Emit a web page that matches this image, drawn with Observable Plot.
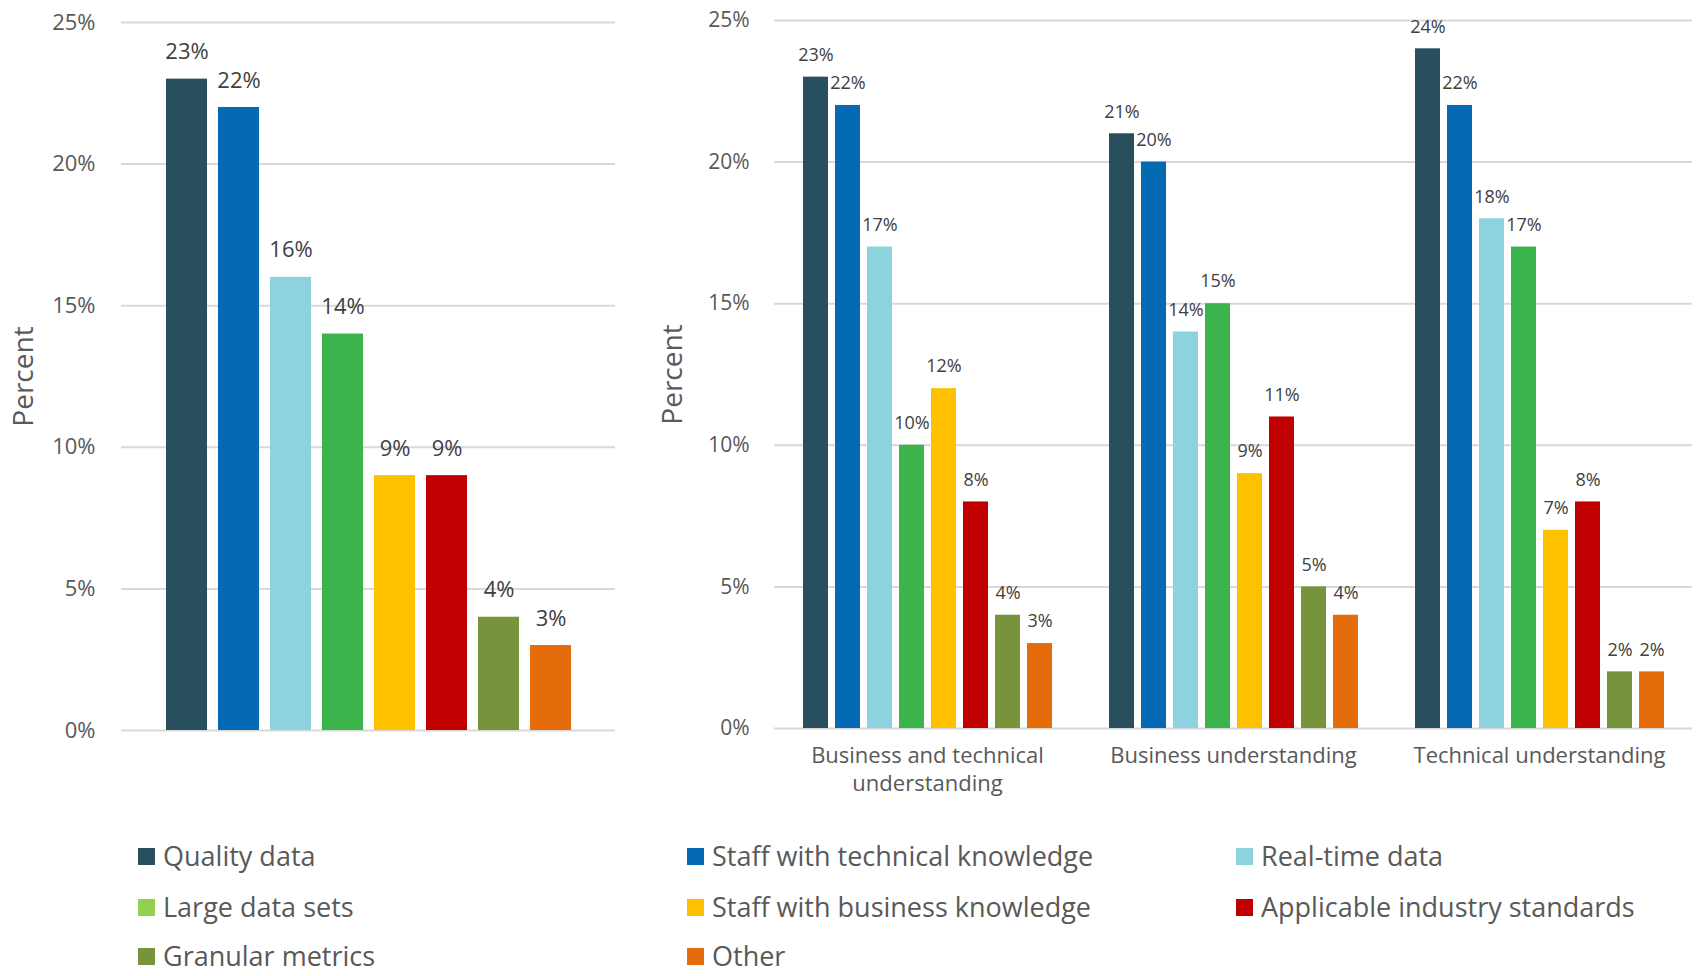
<!DOCTYPE html>
<html>
<head>
<meta charset="utf-8">
<script src="https://cdn.jsdelivr.net/npm/d3@7"></script>
<script src="https://cdn.jsdelivr.net/npm/@observablehq/plot@0.6"></script>
<style>
  html, body { margin: 0; padding: 0; background: #fff; }
  #root { position: relative; width: 1699px; height: 976px; overflow: hidden; font-family: "Open Sans", sans-serif; }
  #left { position: absolute; left: 0; top: 0; }
  #right { position: absolute; left: 640px; top: 0; }
  .leg { position: absolute; display: flex; align-items: center; font-size: 27px; line-height: 30px; color: #595959; white-space: nowrap; height: 30px; }
  .sw { width: 17px; height: 17px; margin-right: 8px; flex: none; }
</style>
</head>
<body>
<div id="root">
  <div id="left"></div>
  <div id="right"></div>
  <div id="legend"></div>
</div>
<script>
const series = ["Quality data", "Staff with technical knowledge", "Real-time data", "Large data sets",
  "Staff with business knowledge", "Applicable industry standards", "Granular metrics", "Other"];
const barColors = ["#294F5E", "#0569B3", "#8DD3DF", "#3BB44B", "#FFC000", "#C00000", "#77933C", "#E46C0A"];
const legendColors = ["#294F5E", "#0569B3", "#8DD3DF", "#92D050", "#FFC000", "#C00000", "#77933C", "#E46C0A"];
const overallValues = [23, 22, 16, 14, 9, 9, 4, 3];
const groups = ["Business and technical understanding", "Business understanding", "Technical understanding"];
const groupLabels = ["Business and technical\nunderstanding", "Business understanding", "Technical understanding"];
const bizTechValues = [23, 22, 17, 10, 12, 8, 4, 3];
const bizValues = [21, 20, 14, 15, 9, 11, 5, 4];
const techValues = [24, 22, 18, 17, 7, 8, 2, 2];
const yTicks = [0, 5, 10, 15, 20, 25];
const yLabel = "Percent";

const overall = series.map((s, i) => ({series: s, value: overallValues[i]}));
const groupValues = [bizTechValues, bizValues, techValues];
const rows = groups.flatMap((g, gi) => series.map((s, i) => ({group: g, series: s, value: groupValues[gi][i]})));

const pct = d => d + "%";

const leftPlot = Plot.plot({
  width: 630, height: 760,
  marginLeft: 121, marginRight: 15, marginTop: 22, marginBottom: 30,
  x: {domain: series, paddingInner: 0.216, paddingOuter: 0.83, axis: null},
  y: {domain: [0, 25], label: null},
  color: {domain: series, range: barColors},
  style: {fontFamily: "Open Sans", fontSize: "22px", color: "#595959", background: "white", overflow: "visible"},
  marks: [
    Plot.ruleY(yTicks, {stroke: "#D9D9D9", strokeWidth: 2}),
    Plot.axisY(yTicks, {tickSize: 0, tickPadding: 26, tickFormat: pct, label: null}),
    Plot.barY(overall, {x: "series", y: "value", fill: "series"}),
    Plot.text(overall, {x: "series", y: "value", text: d => pct(d.value), dy: -27, fill: "#404040", fontSize: 22}),
    Plot.text([yLabel], {text: d => d, frameAnchor: "left", textAnchor: "middle", dx: -97, rotate: -90, fontSize: 28, fill: "#595959"})
  ]
});
document.getElementById("left").appendChild(leftPlot);

const rightPlot = Plot.plot({
  width: 1059, height: 800,
  marginLeft: 133, marginRight: 7, marginTop: 20, marginBottom: 72,
  fx: {domain: groups, padding: 0, axis: null},
  x: {domain: series, paddingInner: 0.22, paddingOuter: 0.85, axis: null},
  y: {domain: [0, 25], label: null},
  color: {domain: series, range: barColors},
  style: {fontFamily: "Open Sans", fontSize: "21px", color: "#595959", background: "white", overflow: "visible"},
  marks: [
    Plot.ruleY(yTicks, {stroke: "#D9D9D9", strokeWidth: 2}),
    Plot.axisY(yTicks, {tickSize: 0, tickPadding: 25, tickFormat: pct, label: null}),
    Plot.barY(rows, {fx: "group", x: "series", y: "value", fill: "series"}),
    Plot.text(rows, {fx: "group", x: "series", y: "value", text: d => pct(d.value), dy: -22, fill: "#404040", fontSize: 18}),
    Plot.text(groups, {fx: d => d, text: (d, i) => groupLabels[i], frameAnchor: "bottom", lineAnchor: "top", dy: 15, fontSize: 22, lineHeight: 1.25, fill: "#595959"}),
    Plot.text([yLabel], {text: d => d, frameAnchor: "left", textAnchor: "middle", dx: -101, rotate: -90, fontSize: 28, fill: "#595959", facetAnchor: "left"})
  ]
});
document.getElementById("right").appendChild(rightPlot);

// legend
const colX = [138, 687, 1236];
const rowY = [856, 907, 956];
const legend = document.getElementById("legend");
series.forEach((s, i) => {
  const item = document.createElement("div");
  item.className = "leg";
  item.style.left = colX[i % 3] + "px";
  item.style.top = (rowY[Math.floor(i / 3)] - 15) + "px";
  const sw = document.createElement("span");
  sw.className = "sw";
  sw.style.background = legendColors[i];
  const tx = document.createElement("span");
  tx.textContent = s;
  item.appendChild(sw);
  item.appendChild(tx);
  legend.appendChild(item);
});
</script>
</body>
</html>
